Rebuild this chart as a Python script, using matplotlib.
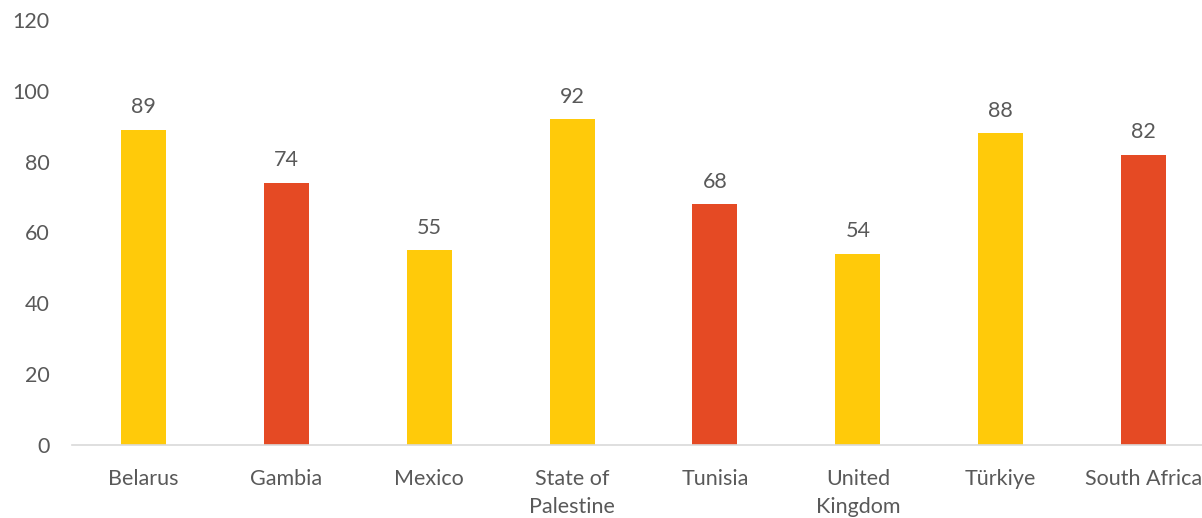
import numpy as np
import matplotlib.pyplot as plt

plt.rcParams['font.family'] = ['Lato', 'DejaVu Sans']

paises = ['Belarus', 'Gambia', 'Mexico', 'State of\nPalestine', 'Tunisia',
          'United\nKingdom', 'Türkiye', 'South Africa']
valores = [89, 74, 55, 92, 68, 54, 88, 82]
cores = ['#FFCA0A', '#E54A24', '#FFCA0A', '#FFCA0A', '#E54A24',
         '#FFCA0A', '#FFCA0A', '#E54A24']

cinza = '#595959'
fs = 15.5

fig = plt.figure(figsize=(12.02, 5.18), dpi=100)
ax = fig.add_axes([72 / 1202, 73 / 518, 1143 / 1202, 425 / 518])

x = np.arange(len(paises))
barras = ax.bar(x, valores, width=0.315, color=cores)

for xi, v in zip(x, valores):
    ax.annotate(str(v), (xi, v), xytext=(0, 9), textcoords='offset points',
                ha='center', va='bottom', fontsize=fs, color=cinza)

ax.set_xlim(-0.5, len(paises) - 0.5)
ax.set_ylim(0, 120)
ax.set_yticks(np.arange(0, 121, 20))
ax.set_xticks(x)
ax.set_xticklabels(paises, fontsize=fs, color=cinza, linespacing=1.5)
ax.tick_params(axis='y', length=0, pad=16, labelsize=fs, labelcolor=cinza)
ax.tick_params(axis='x', length=0, pad=17)

for lado in ['top', 'right', 'left']:
    ax.spines[lado].set_visible(False)
ax.spines['bottom'].set_color('#D9D9D9')
ax.spines['bottom'].set_linewidth(1.2)

fig.savefig('out.png', dpi=100)
